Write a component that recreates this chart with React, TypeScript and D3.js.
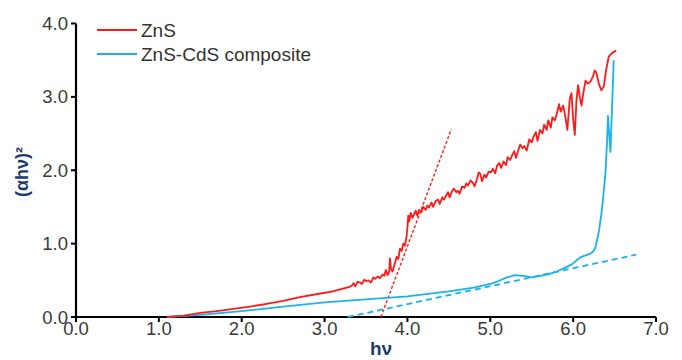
import React from "react";
import * as d3 from "d3";

const xTicks = [0, 1, 2, 3, 4, 5, 6, 7];
const yTicks = [0, 1, 2, 3, 4];

const znsX = [1.1, 1.3, 1.5, 1.7, 1.9, 2.1, 2.3, 2.5, 2.7, 2.9, 3.1, 3.2, 3.3,
  3.33, 3.35, 3.37, 3.4, 3.43, 3.45, 3.48, 3.5, 3.53, 3.56, 3.59, 3.61, 3.64, 3.67, 3.7, 3.72, 3.74, 3.76, 3.78, 3.79, 3.8, 3.82, 3.85, 3.87, 3.89, 3.91, 3.93, 3.95, 3.97, 3.99,
  4.0, 4.01, 4.02, 4.04, 4.06, 4.08, 4.1, 4.12, 4.14, 4.17, 4.19, 4.22, 4.24, 4.26, 4.29, 4.31, 4.34, 4.37, 4.39, 4.42, 4.44, 4.47, 4.49, 4.51, 4.54, 4.56, 4.59, 4.61, 4.63, 4.66, 4.69, 4.71, 4.73, 4.76, 4.79, 4.81, 4.84, 4.86, 4.88, 4.9, 4.93, 4.95, 4.98,
  5.01, 5.03, 5.06, 5.08, 5.11, 5.13, 5.16, 5.19, 5.21, 5.24, 5.27, 5.29, 5.31, 5.34, 5.36, 5.39, 5.41, 5.44, 5.47, 5.5, 5.52, 5.55, 5.57, 5.6, 5.63, 5.65, 5.68, 5.7, 5.73, 5.75, 5.78, 5.8, 5.83, 5.85, 5.88, 5.91, 5.93, 5.96, 5.98,
  6.0, 6.02, 6.04, 6.06, 6.08, 6.1, 6.13, 6.15, 6.18, 6.21, 6.24, 6.26, 6.28, 6.31, 6.34, 6.37, 6.4, 6.43, 6.47, 6.52];
const znsY = [0.0, 0.02, 0.055, 0.08, 0.11, 0.14, 0.18, 0.22, 0.27, 0.31, 0.35, 0.38, 0.41,
  0.43, 0.46, 0.42, 0.48, 0.47, 0.45, 0.51, 0.49, 0.50, 0.47, 0.54, 0.52, 0.55, 0.53, 0.58, 0.56, 0.64, 0.57, 0.62, 0.80, 0.66, 0.62, 0.74, 0.82, 0.79, 0.93, 0.90, 1.00, 0.97, 1.10,
  1.22, 1.38, 1.30, 1.42, 1.35, 1.40, 1.45, 1.38, 1.46, 1.43, 1.50, 1.46, 1.52, 1.49, 1.56, 1.50, 1.58, 1.60, 1.54, 1.63, 1.60, 1.66, 1.70, 1.63, 1.72, 1.75, 1.70, 1.72, 1.68, 1.78, 1.76, 1.82, 1.79, 1.86, 1.83, 1.78, 1.88, 1.97, 1.95, 1.85, 1.94, 1.90, 1.98,
  1.97, 2.02, 1.96, 2.06, 2.10, 2.03, 2.12, 2.07, 2.18, 2.14, 2.22, 2.26, 2.17, 2.28, 2.35, 2.30, 2.33, 2.27, 2.42, 2.38, 2.45, 2.52, 2.40, 2.55, 2.50, 2.62, 2.55, 2.68, 2.58, 2.72, 2.68, 2.76, 2.90, 2.80, 2.88, 2.70, 2.55, 2.98, 3.05,
  2.70, 2.48, 2.95, 3.16, 3.00, 2.88, 3.10, 3.22, 3.18, 3.21, 3.28, 3.36, 3.33, 3.18, 3.09, 3.14, 3.38, 3.55, 3.60, 3.63];

const compX = [1.1, 1.5, 2.0, 2.5, 3.0, 3.5, 4.0, 4.5, 4.8, 5.0, 5.1, 5.2, 5.3, 5.4, 5.5, 5.6, 5.7, 5.8, 5.9, 6.0, 6.05, 6.1, 6.2, 6.24, 6.27, 6.31, 6.34, 6.36, 6.39, 6.41, 6.42, 6.45, 6.49];
const compY = [0.0, 0.03, 0.08, 0.14, 0.20, 0.24, 0.28, 0.35, 0.40, 0.45, 0.49, 0.54, 0.57, 0.56, 0.54, 0.56, 0.58, 0.62, 0.67, 0.73, 0.78, 0.82, 0.86, 0.89, 0.95, 1.16, 1.40, 1.6, 1.96, 2.41, 2.74, 2.25, 3.5];

const znsFitX = [3.68, 4.53];
const znsFitY = [0.0, 2.56];
const compFitX = [3.28, 6.76];
const compFitY = [0.0, 0.85];

const seriesNames = ["ZnS", "ZnS-CdS composite"];
const seriesColors = ["#FF1A1A", "#1AB2EE"];

export default function App() {
  const W = 682, H = 360;
  const x = d3.scaleLinear().domain([0, 7]).range([76, 656]);
  const y = d3.scaleLinear().domain([0, 4]).range([317, 23.5]);
  const line = d3.line<[number, number]>().x(d => x(d[0])).y(d => y(d[1]));
  const zip = (a: number[], b: number[]) => a.map((v, i) => [v, b[i]] as [number, number]);
  const font = "'Liberation Sans', Arial, sans-serif";
  const tickColor = "#3a3a3a";
  const fs = 18.5;
  return (
    <svg width={W} height={H} style={{ position: "absolute", left: 0, top: 0, background: "#fff" }} fontFamily={font}>
      {/* axes */}
      <line x1={x(0)} x2={x(7)} y1={y(0)} y2={y(0)} stroke="#000" strokeWidth={2.2} />
      <line x1={x(0)} x2={x(0)} y1={y(0) + 1} y2={y(4)} stroke="#000" strokeWidth={2.2} />
      {xTicks.map(t => (
        <g key={"x" + t}>
          <line x1={x(t)} x2={x(t)} y1={y(0)} y2={y(0) + 5} stroke="#000" strokeWidth={2} />
          <text x={x(t)} y={335} textAnchor="middle" fontSize={fs} fill={tickColor}>{t.toFixed(1)}</text>
        </g>
      ))}
      {yTicks.map(t => (
        <g key={"y" + t}>
          <line x1={x(0) - 5} x2={x(0)} y1={y(t)} y2={y(t)} stroke="#000" strokeWidth={2} />
          <text x={68} y={y(t) + 6.5} textAnchor="end" fontSize={fs} fill={tickColor}>{t.toFixed(1)}</text>
        </g>
      ))}
      <text x={381} y={355} textAnchor="middle" fontSize={19} fontWeight="bold" fill="#1F3A6E">hν</text>
      <text transform="translate(28,172) rotate(-90)" textAnchor="middle" fontSize={18} fontWeight="bold" fill="#1F3A6E">(αhν)²</text>
      {/* fit lines */}
      <path d={line(zip(znsFitX, znsFitY)) || ""} fill="none" stroke={seriesColors[0]} strokeWidth={1.4} strokeDasharray="3,2" />
      <path d={line(zip(compFitX, compFitY)) || ""} fill="none" stroke={seriesColors[1]} strokeWidth={1.8} strokeDasharray="6,4" />
      {/* data */}
      <path d={line(zip(compX, compY)) || ""} fill="none" stroke={seriesColors[1]} strokeWidth={1.8} strokeLinejoin="round" />
      <path d={line(zip(znsX, znsY)) || ""} fill="none" stroke={seriesColors[0]} strokeWidth={1.8} strokeLinejoin="round" />
      {/* legend */}
      {seriesNames.map((n, i) => (
        <g key={n}>
          <line x1={97} x2={137} y1={30 + i * 24} y2={30 + i * 24} stroke={seriesColors[i]} strokeWidth={1.8} />
          <text x={141} y={37 + i * 24} fontSize={19} fill="#333">{n}</text>
        </g>
      ))}
    </svg>
  );
}
